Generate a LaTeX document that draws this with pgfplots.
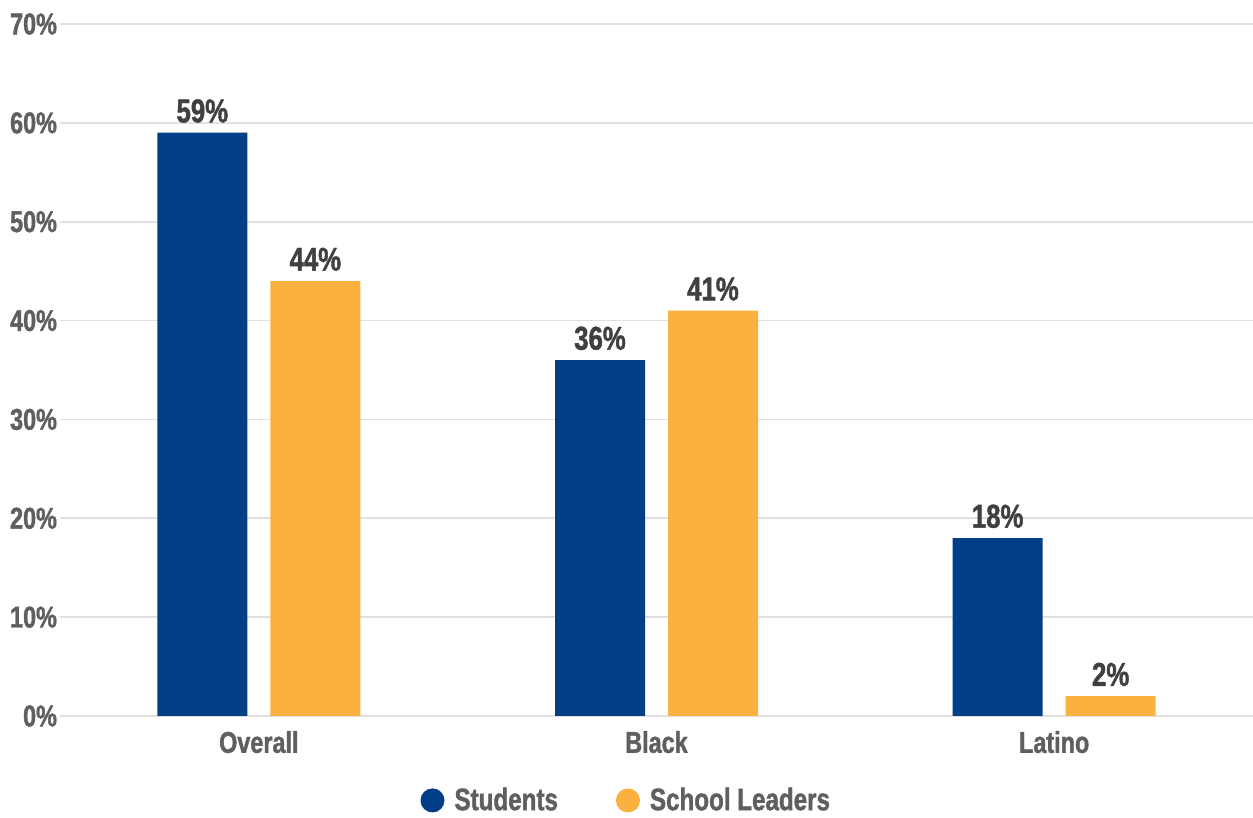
\documentclass[border=0pt]{standalone}
\usepackage{pgfplots}
\pgfplotsset{compat=1.18}
\usepackage{fontspec}
\setmainfont{Liberation Sans}
\newfontfamily\cond{Liberation Sans Bold}[FakeStretch=0.78, FakeBold=1.3]
\definecolor{navy}{RGB}{0,63,135}
\definecolor{gold}{RGB}{251,176,64}
\definecolor{ticktext}{RGB}{95,95,95}
\definecolor{valtext}{RGB}{64,64,64}
\definecolor{gridc}{RGB}{224,224,224}
\begin{document}
\begin{tikzpicture}
\path[use as bounding box] (-30pt,-51pt) rectangle (596.5pt,358pt);
\begin{axis}[
    scale only axis,
    width=596.5pt, height=346pt,
    ybar, bar width=45pt,
    ymin=0, ymax=70,
    xmin=-0.5, xmax=2.5,
    xtick=data,
    xticklabels={Overall,Black,Latino},
    ytick={0,10,...,70},
    yticklabel={\pgfmathprintnumber{\tick}\%},
    /pgf/number format/assume math mode=true,
    ymajorgrids, grid style={gridc, line width=0.8pt},
    axis line style={draw=none},
    major tick length=0pt,
    tick label style={font=\fontsize{15}{18}\selectfont\cond, text=ticktext},
    xticklabel style={yshift=-4pt},
    yticklabel style={xshift=2pt},
    nodes near coords={\pgfmathprintnumber{\pgfplotspointmeta}\%},
    every node near coord/.append style={font=\fontsize{16.5}{19}\selectfont\cond, text=valtext, yshift=1.5pt},
    legend style={draw=none, at={(0.4755,-0.122)}, anchor=center, legend columns=2,
        font=\fontsize{15.5}{18}\selectfont\cond, text=ticktext,
        /tikz/every even column/.append style={column sep=27pt}},
    legend image code/.code={\fill[#1] (-3.5pt,0pt) circle (6pt);},
]
\addplot[fill=navy, draw=none, bar shift=-28.25pt] coordinates {(0,59) (1,36) (2,18)};
\addplot[fill=gold, draw=none, bar shift=28.25pt] coordinates {(0,44) (1,41) (2,2)};
\legend{\hspace{3pt}Students, \hspace{3pt}School Leaders}
\end{axis}
\end{tikzpicture}
\end{document}
